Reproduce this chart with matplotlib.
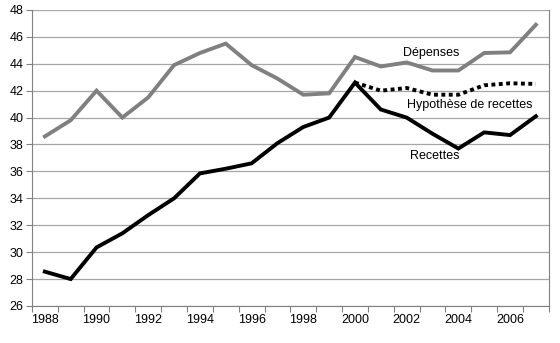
import numpy as np
import matplotlib.pyplot as plt

plt.rcParams['font.family'] = ['Liberation Sans', 'DejaVu Sans']

years = list(range(1988, 2008))
depenses = [38.6, 39.8, 42.0, 40.0, 41.5, 43.9, 44.8, 45.5, 43.9, 42.9,
            41.7, 41.8, 44.5, 43.8, 44.1, 43.5, 43.5, 44.8, 44.85, 46.9]
recettes = [28.55, 28.0, 30.35, 31.4, 32.75, 34.0, 35.85, 36.2, 36.6, 38.1,
            39.3, 40.0, 42.6, 40.6, 40.0, 38.8, 37.7, 38.9, 38.7, 40.1]
hyp_years = list(range(2000, 2008))
hypothese = [42.6, 42.0, 42.2, 41.7, 41.7, 42.4, 42.55, 42.5]

fig = plt.figure(figsize=(5.6, 3.43), dpi=100)
ax = fig.add_axes([0.057, 0.108, 0.923, 0.863])

x = np.arange(len(years))
hx = np.array([years.index(y) for y in hyp_years])

ax.plot(x, depenses, color='#808080', lw=2.8, solid_joinstyle='miter', zorder=3)
ax.plot(hx, hypothese, color='black', lw=2.8, linestyle=(0, (1, 0.9)), zorder=3)
ax.plot(x, recettes, color='black', lw=2.8, solid_joinstyle='miter', zorder=4)

ax.set_xlim(-0.5, len(years) - 0.5)
ax.set_ylim(26, 48)
ax.set_yticks(np.arange(26, 49, 2))
ax.yaxis.grid(True, color='#a6a6a6', lw=0.9)
ax.set_axisbelow(True)

ax.set_xticks(np.arange(-0.5, len(years), 1))
ax.set_xticklabels([])
ax.set_xticks(x[::2], minor=True)
ax.set_xticklabels([str(y) for y in years[::2]], minor=True)
ax.tick_params(axis='x', which='major', length=4, color='#808080', direction='out')
ax.tick_params(axis='x', which='minor', length=0, pad=6, labelsize=9)
ax.tick_params(axis='y', length=4, color='#808080', labelsize=9, pad=2)

for s in ['left', 'bottom', 'right']:
    ax.spines[s].set_color('#808080')
ax.spines['top'].set_visible(False)

ax.text(years.index(2003) - 0.05, 44.6, 'Dépenses', fontsize=9, ha='center')
ax.text(years.index(2004) + 0.45, 40.7, 'Hypothèse de recettes', fontsize=9, ha='center')
ax.text(years.index(2003) + 0.1, 36.9, 'Recettes', fontsize=9, ha='center')

fig.savefig('out.png', dpi=100)
